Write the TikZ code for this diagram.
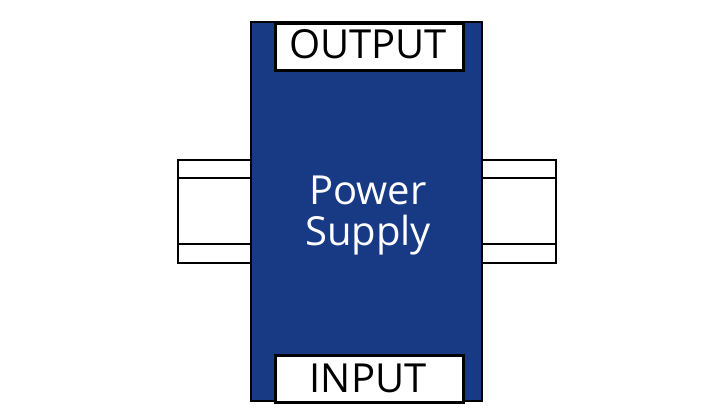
\documentclass[tikz,border=0pt]{standalone}
\usepackage{fontspec}
\setmainfont{Open Sans}
\definecolor{psblue}{RGB}{24,58,132}
\begin{document}
\begin{tikzpicture}[x=1pt,y=-1pt,
  outl/.style={draw=black,line width=2.6pt},
  label/.style={font=\fontsize{40}{44}\selectfont,inner sep=0pt,anchor=base},
  wlabel/.style={label,text=white}]
\useasboundingbox (0,0) rectangle (709,419);
% rails
\draw[outl,fill=white] (178,160) rectangle (252,263);
\draw[outl] (178,178) -- (252,178);
\draw[outl] (178,244) -- (252,244);
\draw[outl,fill=white] (481,160) rectangle (556,263);
\draw[outl] (481,178) -- (556,178);
\draw[outl] (481,244) -- (556,244);
% body
\draw[outl,fill=psblue] (251,22) rectangle (482,401);
\node[outl,fill=white,minimum width=188pt,minimum height=47pt,anchor=north west,inner sep=0pt] (out) at (274,22) {};
\node[label] (outt) at (368,59) {OUTPUT};
\node[outl,fill=white,minimum width=188pt,minimum height=47pt,anchor=north west,inner sep=0pt] (in) at (274,354) {};
\node[label] (int) at (368,392) {INPUT};
\node[wlabel] (pw) at (368,205) {Power};
\node[wlabel] (sp) at (368,246) {Supply};
\end{tikzpicture}
\end{document}
